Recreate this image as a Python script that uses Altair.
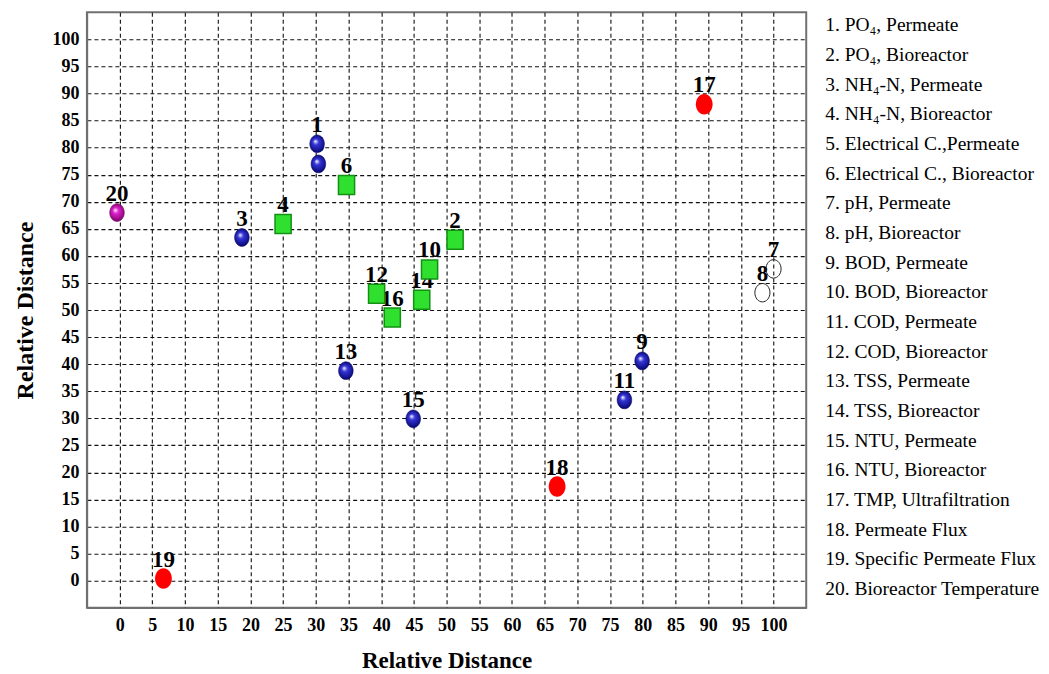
import altair as alt
import pandas as pd

ids = list(range(1, 21))
xs = [30.2, 51.3, 18.7, 25.0, 30.4, 34.7, 100.0, 98.3, 79.9, 47.4,
      77.2, 39.3, 34.6, 46.2, 44.9, 41.7, 89.4, 66.9, 6.7, -0.4]
ys = [80.7, 63.0, 63.4, 65.9, 77.0, 73.1, 57.6, 53.2, 40.6, 57.5,
      33.4, 53.0, 38.8, 51.9, 29.9, 48.6, 88.0, 17.4, 0.4, 68.0]
kinds = ["blue", "green", "blue", "green", "blue", "green", "open", "open", "blue", "green",
         "blue", "green", "blue", "green", "blue", "green", "red", "red", "red", "pink"]
names = [
    "1. PO\u2084,  Permeate", "2. PO\u2084,  Bioreactor", "3. NH\u2084-N, Permeate",
    "4. NH\u2084-N, Bioreactor", "5. Electrical C.,Permeate", "6. Electrical C.,  Bioreactor",
    "7. pH, Permeate", "8. pH, Bioreactor", "9. BOD, Permeate", "10. BOD, Bioreactor",
    "11. COD, Permeate", "12. COD, Bioreactor", "13. TSS, Permeate", "14. TSS, Bioreactor",
    "15. NTU, Permeate", "16. NTU, Bioreactor", "17. TMP, Ultrafiltration",
    "18. Permeate Flux", "19. Specific Permeate Flux", "20. Bioreactor Temperature",
]
ticks = list(range(0, 101, 5))

df = pd.DataFrame({"id": ids, "x": xs, "y": ys, "kind": kinds, "lab": [str(i) for i in ids]})
leg = pd.DataFrame({"k": ids, "name": names})

SERIF = "Liberation Serif"
ELLIPSE = "M0,-1A0.82,1,0,1,1,0,1A0.82,1,0,1,1,0,-1Z"
RECT = "M-0.85,-1H0.85V1H-0.85Z"

xenc = alt.X("x:Q", scale=alt.Scale(domain=[-5, 105], nice=False, zero=False),
             axis=alt.Axis(values=ticks, title="Relative Distance", ticks=False,
                           labelPadding=9, titlePadding=15, grid=True))
yenc = alt.Y("y:Q", scale=alt.Scale(domain=[-5, 105], nice=False, zero=False),
             axis=alt.Axis(values=ticks, title="Relative Distance", ticks=False,
                           labelPadding=8, titlePadding=14, grid=True))

base = alt.Chart(df).encode(x=xenc, y=yenc)

def sphere(c_mid, c_edge):
    return {"gradient": "radial", "x1": 0.4, "y1": 0.35, "r1": 0, "x2": 0.5, "y2": 0.5, "r2": 0.55,
            "stops": [{"offset": 0, "color": "#ffffff"}, {"offset": 0.3, "color": c_mid},
                      {"offset": 1, "color": c_edge}]}

labels = base.mark_text(font=SERIF, fontSize=23, fontWeight="bold", color="black",
                        baseline="alphabetic", dy=-12).encode(text="lab:N")

blue = base.transform_filter(alt.datum.kind == "blue").mark_point(
    shape=ELLIPSE, size=320, filled=True, opacity=1,
    fill=sphere("#3535d8", "#000066"), stroke="#000050", strokeWidth=0.5)
pink = base.transform_filter(alt.datum.kind == "pink").mark_point(
    shape=ELLIPSE, size=320, filled=True, opacity=1,
    fill=sphere("#e020d0", "#70005a"), stroke="#600050", strokeWidth=0.5)
green = base.transform_filter(alt.datum.kind == "green").mark_point(
    shape=RECT, size=361, filled=True, opacity=1,
    fill="#2fe02f", stroke="#149014", strokeWidth=1.5)
red = base.transform_filter(alt.datum.kind == "red").mark_point(
    shape=ELLIPSE, size=420, filled=True, opacity=1, fill="#ff0000")
open_ = base.transform_filter(alt.datum.kind == "open").mark_point(
    shape=ELLIPSE, size=340, filled=False, opacity=1, stroke="#222222", strokeWidth=1)

main = alt.layer(labels, blue, pink, green, red, open_).properties(
    width=720, height=596,
    view=alt.ViewBackground(stroke="#707070", strokeWidth=2),
)

legend = alt.Chart(leg).mark_text(font=SERIF, fontSize=19.5, color="black", align="left",
                                  baseline="alphabetic").encode(
    x=alt.value(0),
    y=alt.Y("k:Q", scale=alt.Scale(domain=[0.36, 20.43], nice=False, zero=False, reverse=True),
            axis=None),
    text="name:N",
).properties(width=205, height=596)

chart = alt.hconcat(main, legend, spacing=17).properties(
    padding={"left": 5, "top": 3, "right": 0, "bottom": 0}
).configure_view(stroke="transparent").configure_axis(
    labelFont=SERIF, labelFontSize=18, labelFontWeight="bold", labelColor="black",
    titleFont=SERIF, titleFontSize=24, titleFontWeight="bold", titleColor="black",
    gridColor="#111111", gridDash=[4, 3], gridWidth=1.1, gridOpacity=1,
    domainColor="#707070", domainWidth=1.5,
).configure_axisX(titleFontSize=23)

chart.save("out.html", embed_options={"renderer": "svg", "actions": False})
